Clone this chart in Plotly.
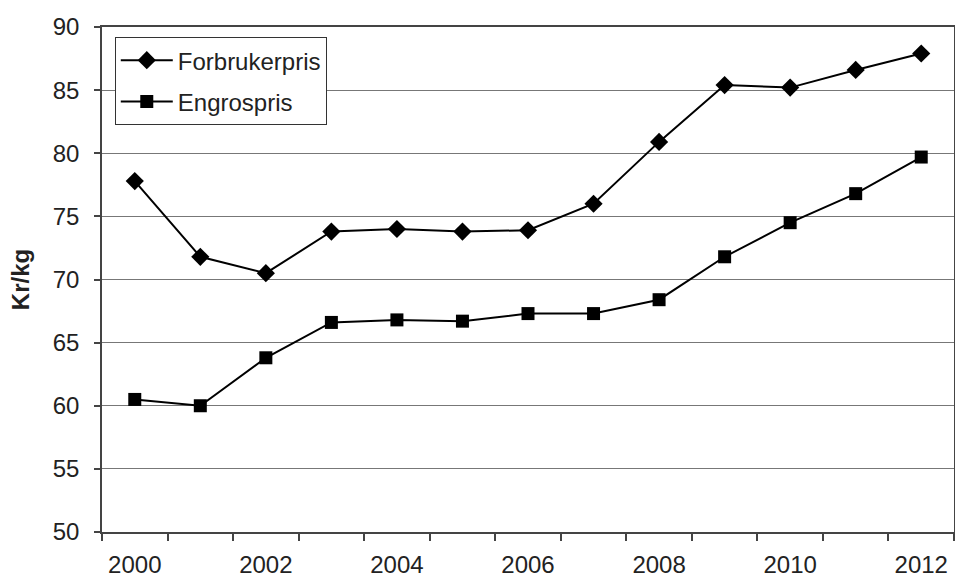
import plotly.graph_objects as go

years = list(range(2000, 2013))
forbrukerpris = [77.8, 71.8, 70.5, 73.8, 74.0, 73.8, 73.9, 76.0, 80.9, 85.4, 85.2, 86.6, 87.9]
engrospris = [60.5, 60.0, 63.8, 66.6, 66.8, 66.7, 67.3, 67.3, 68.4, 71.8, 74.5, 76.8, 79.7]
year_labels = [str(y) for y in years if y % 2 == 0]

font = "Liberation Sans, Arial, sans-serif"

fig = go.Figure()

fig.add_trace(go.Scatter(
    x=years, y=forbrukerpris, name="Forbrukerpris",
    mode="lines+markers", legendgroup="a",
    line=dict(color="black", width=2),
    marker=dict(symbol="diamond", size=14, color="black"),
))
fig.add_trace(go.Scatter(
    x=years, y=engrospris, name="Engrospris",
    mode="lines+markers", legendgroup="b",
    line=dict(color="black", width=2),
    marker=dict(symbol="square", size=13, color="black"),
))

# category boundaries for the small x ticks (Excel style)
edges = [y - 0.5 for y in years] + [years[-1] + 0.5]

fig.update_layout(
    width=955, height=577,
    margin=dict(l=102, r=1, t=27, b=45),
    plot_bgcolor="white", paper_bgcolor="white",
    font=dict(family=font, size=24, color="#222222"),
    showlegend=True,
    legend=dict(
        x=0.015, y=0.98, xanchor="left", yanchor="top",
        bordercolor="#333333", borderwidth=1, bgcolor="white",
        font=dict(size=24), tracegroupgap=7, itemwidth=52,
    ),
    xaxis=dict(
        range=[years[0] - 0.5, years[-1] + 0.5],
        tickvals=[int(s) for s in year_labels], ticktext=year_labels,
        ticks="", showgrid=False, automargin=False,
        ticklabelstandoff=10,
        showline=True, linecolor="#444444", linewidth=1.5, mirror=True,
        zeroline=False,
        minor=dict(tickvals=edges, ticks="outside", ticklen=7,
                   tickcolor="#444444", tickwidth=1.5, showgrid=False),
    ),
    yaxis=dict(
        range=[50, 90], dtick=5, automargin=False,
        ticks="outside", ticklen=6, tickcolor="#444444", tickwidth=1.5,
        ticklabelstandoff=10,
        showgrid=True, gridcolor="#777777", gridwidth=1.2,
        showline=True, linecolor="#444444", linewidth=1.5, mirror=True,
        zeroline=False,
        title=dict(text="<b>Kr/kg</b>", font=dict(size=24), standoff=16),
    ),
)

fig.write_html("out.html", config={"displayModeBar": False},
               post_script="document.body.style.margin = '0';")
